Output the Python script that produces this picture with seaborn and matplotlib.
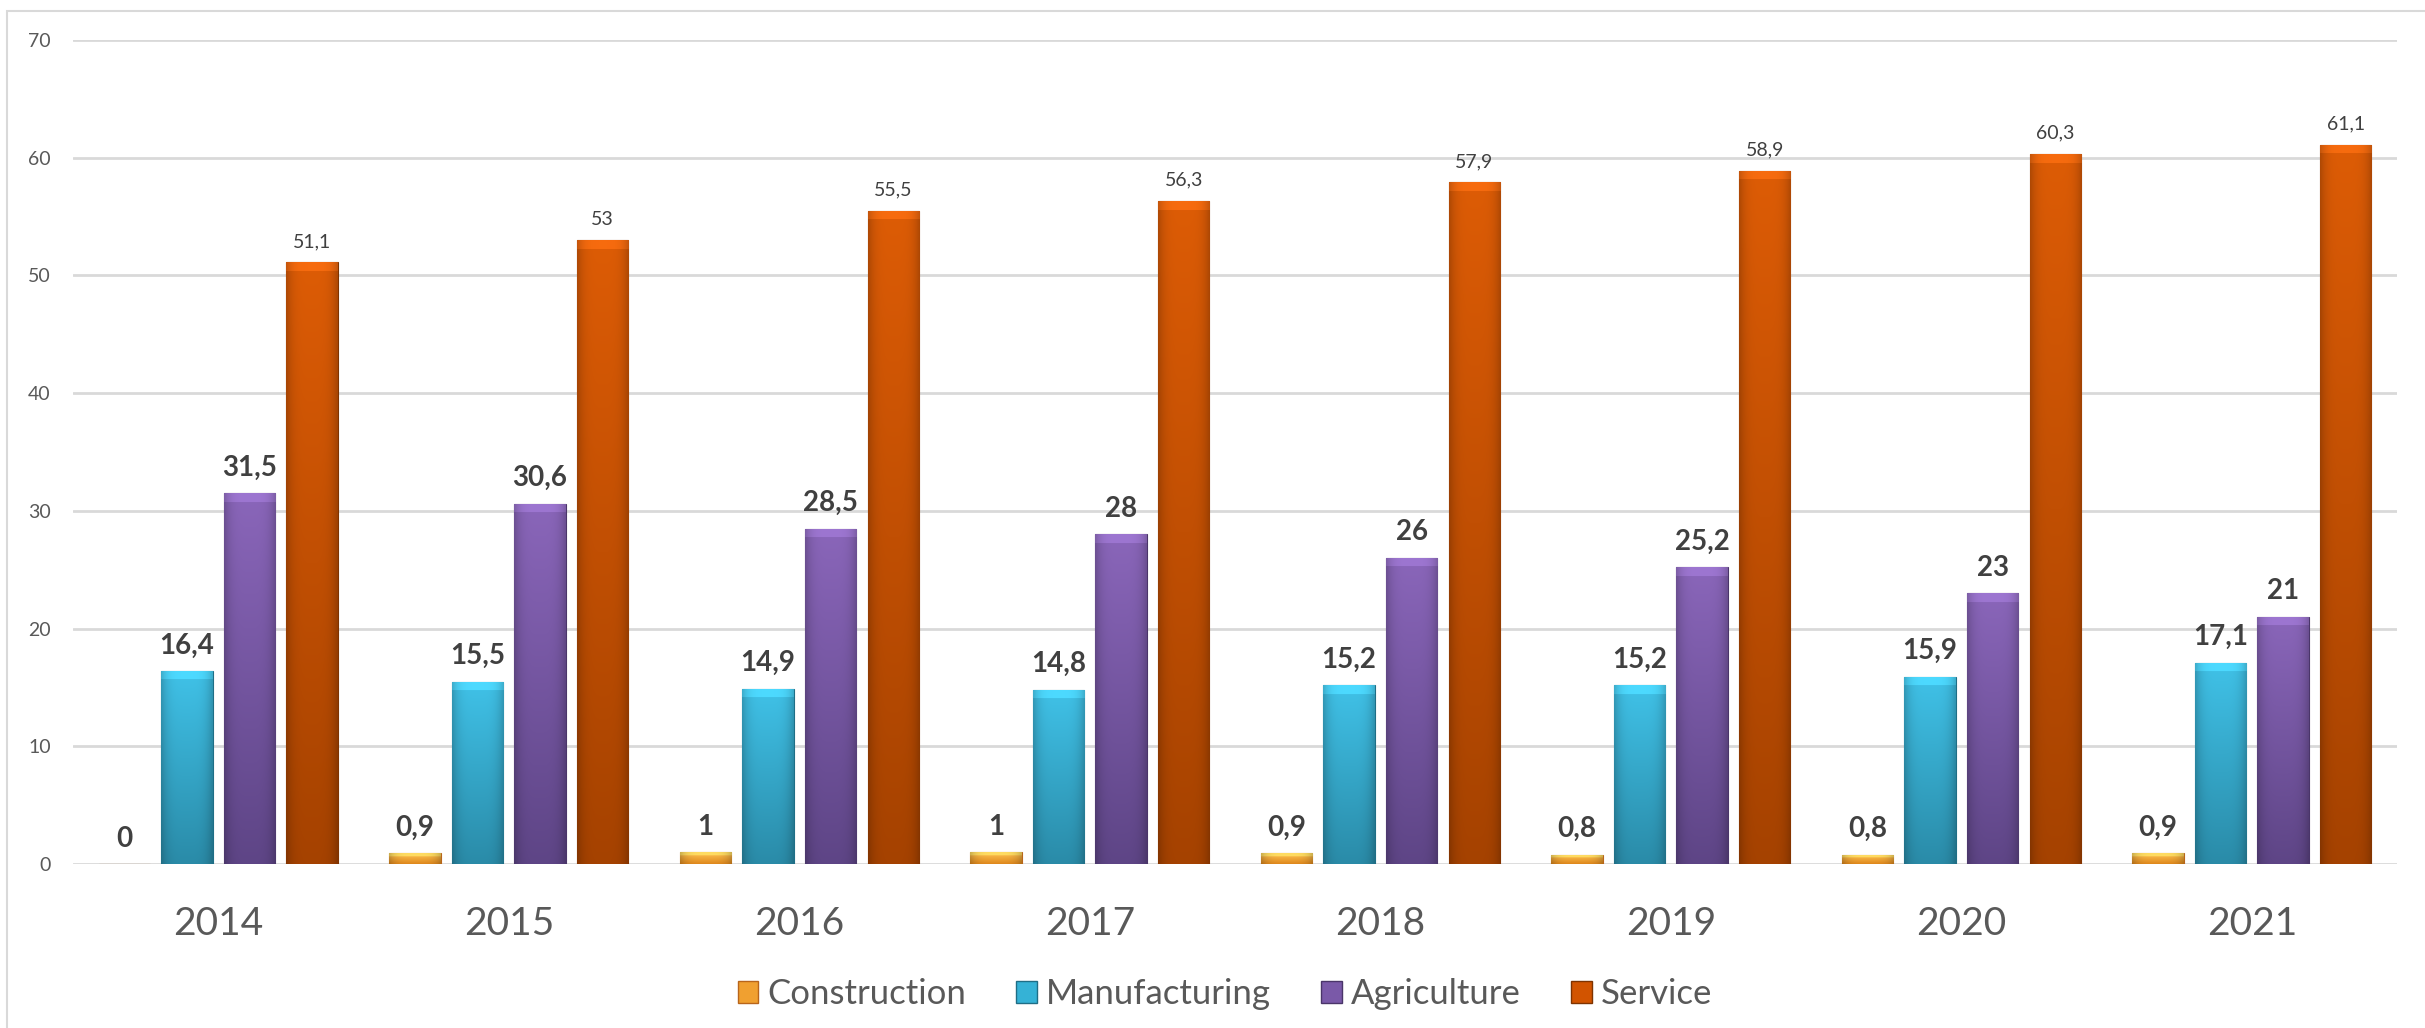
import numpy as np
import pandas as pd
import matplotlib.pyplot as plt
import seaborn as sns
from matplotlib.patches import Patch, Rectangle

# Data
years = ["2014", "2015", "2016", "2017", "2018", "2019", "2020", "2021"]
sectors = ["Construction", "Manufacturing", "Agriculture", "Service"]
construction = [0, 0.9, 1, 1, 0.9, 0.8, 0.8, 0.9]
manufacturing = [16.4, 15.5, 14.9, 14.8, 15.2, 15.2, 15.9, 17.1]
agriculture = [31.5, 30.6, 28.5, 28, 26, 25.2, 23, 21]
service = [51.1, 53, 55.5, 56.3, 57.9, 58.9, 60.3, 61.1]

values = {"Construction": construction, "Manufacturing": manufacturing,
          "Agriculture": agriculture, "Service": service}
rows = [(y, s, values[s][i]) for s in sectors for i, y in enumerate(years)]
df = pd.DataFrame(rows, columns=["Year", "Sector", "Value"])

# main colour, top shade, bottom shade, edge
colors = {
    "Construction": ("#F0A030", "#FFC453", "#E08A1E", "#B8651A"),
    "Manufacturing": ("#35B2D6", "#40C2E8", "#2A8BA8", "#1F6E86"),
    "Agriculture": ("#7A59A8", "#8A66BA", "#5E4586", "#4A3569"),
    "Service": ("#D25400", "#DD5C06", "#A54200", "#7E3300"),
}

sns.set_theme(style="white")
plt.rcParams["font.family"] = ["Lato", "DejaVu Sans"]

fig = plt.figure(figsize=(24.25, 10.28), dpi=100)
ax = fig.add_axes([0.0301, 0.1595, 0.9584, 0.8016])

sns.barplot(data=df, x="Year", y="Value", hue="Sector", hue_order=sectors,
            palette={s: colors[s][0] for s in sectors}, width=0.862, gap=0.18,
            errorbar=None, legend=False, ax=ax)

ax.set_ylim(0, 70)
ax.set_xlim(-0.5, 7.5)
ax.set_yticks(range(0, 71, 10))
ax.yaxis.grid(True, color="#D9D9D9", linewidth=2)
ax.set_axisbelow(True)
for sp in ax.spines.values():
    sp.set_visible(False)
ax.set_xlabel("")
ax.set_ylabel("")
ax.tick_params(axis="y", length=0, pad=16, labelsize=14, labelcolor="#595959")
ax.tick_params(axis="x", length=0, pad=30, labelsize=28, labelcolor="#595959")

# gradient fill for the bars (shaded look of the original)
fig.canvas.draw()
for container, sector in zip(ax.containers, sectors):
    _, top_c, bot_c, edge_c = colors[sector]
    top = np.array(plt.matplotlib.colors.to_rgb(top_c))
    bot = np.array(plt.matplotlib.colors.to_rgb(bot_c))
    for bar in container:
        h = bar.get_height()
        bar.set_edgecolor(edge_c)
        bar.set_linewidth(0.8)
        if h <= 0:
            continue
        px_h = ax.transData.transform((0, h))[1] - ax.transData.transform((0, 0))[1]
        n = max(int(px_h), 3)
        t = np.linspace(0, 1, n)[:, None]
        rgb = (1 - t) * top + t * bot
        bevel = min(9, max(n // 3, 1))
        rgb[:bevel] = np.clip(top * 1.08 + 0.03, 0, 1)
        cols = np.linspace(-1, 1, 40)
        shade = 1 - 0.2 * np.abs(cols) ** 4
        img = rgb[:, None, :] * shade[None, :, None]
        x0 = bar.get_x()
        w = bar.get_width()
        im = ax.imshow(img, extent=(x0, x0 + w, 0, h), aspect="auto",
                       origin="upper", interpolation="bilinear", zorder=bar.get_zorder())
        im.set_clip_path(bar)
        bar.set_facecolor("none")

ax.set_ylim(0, 70)
ax.set_xlim(-0.5, 7.5)


def fmt(v):
    return f"{v:g}".replace(".", ",")


for container, sector in zip(ax.containers, sectors):
    labels = [fmt(v) for v in values[sector]]
    if sector == "Service":
        ax.bar_label(container, labels=labels, padding=9, fontsize=14, color="#404040")
    else:
        ax.bar_label(container, labels=labels, padding=9, fontsize=20,
                     fontweight="bold", color="#404040")

handles = [Patch(facecolor=colors[s][0], edgecolor=colors[s][3], label=s) for s in sectors]
fig.legend(handles=handles, loc="center", bbox_to_anchor=(0.505, 0.033), ncol=4,
           frameon=False, fontsize=25, labelcolor="#595959", handlelength=0.6,
           handleheight=0.6, handletextpad=0.25, columnspacing=1.45)

# thin frame around the chart area
fig.patches.append(Rectangle((7 / 2425, -0.05), 1.2, 1 - 11 / 1028 + 0.05,
                             transform=fig.transFigure, fill=False,
                             edgecolor="#D9D9D9", linewidth=1.5, clip_on=False))

fig.savefig("out.png", dpi=100, facecolor="white")
